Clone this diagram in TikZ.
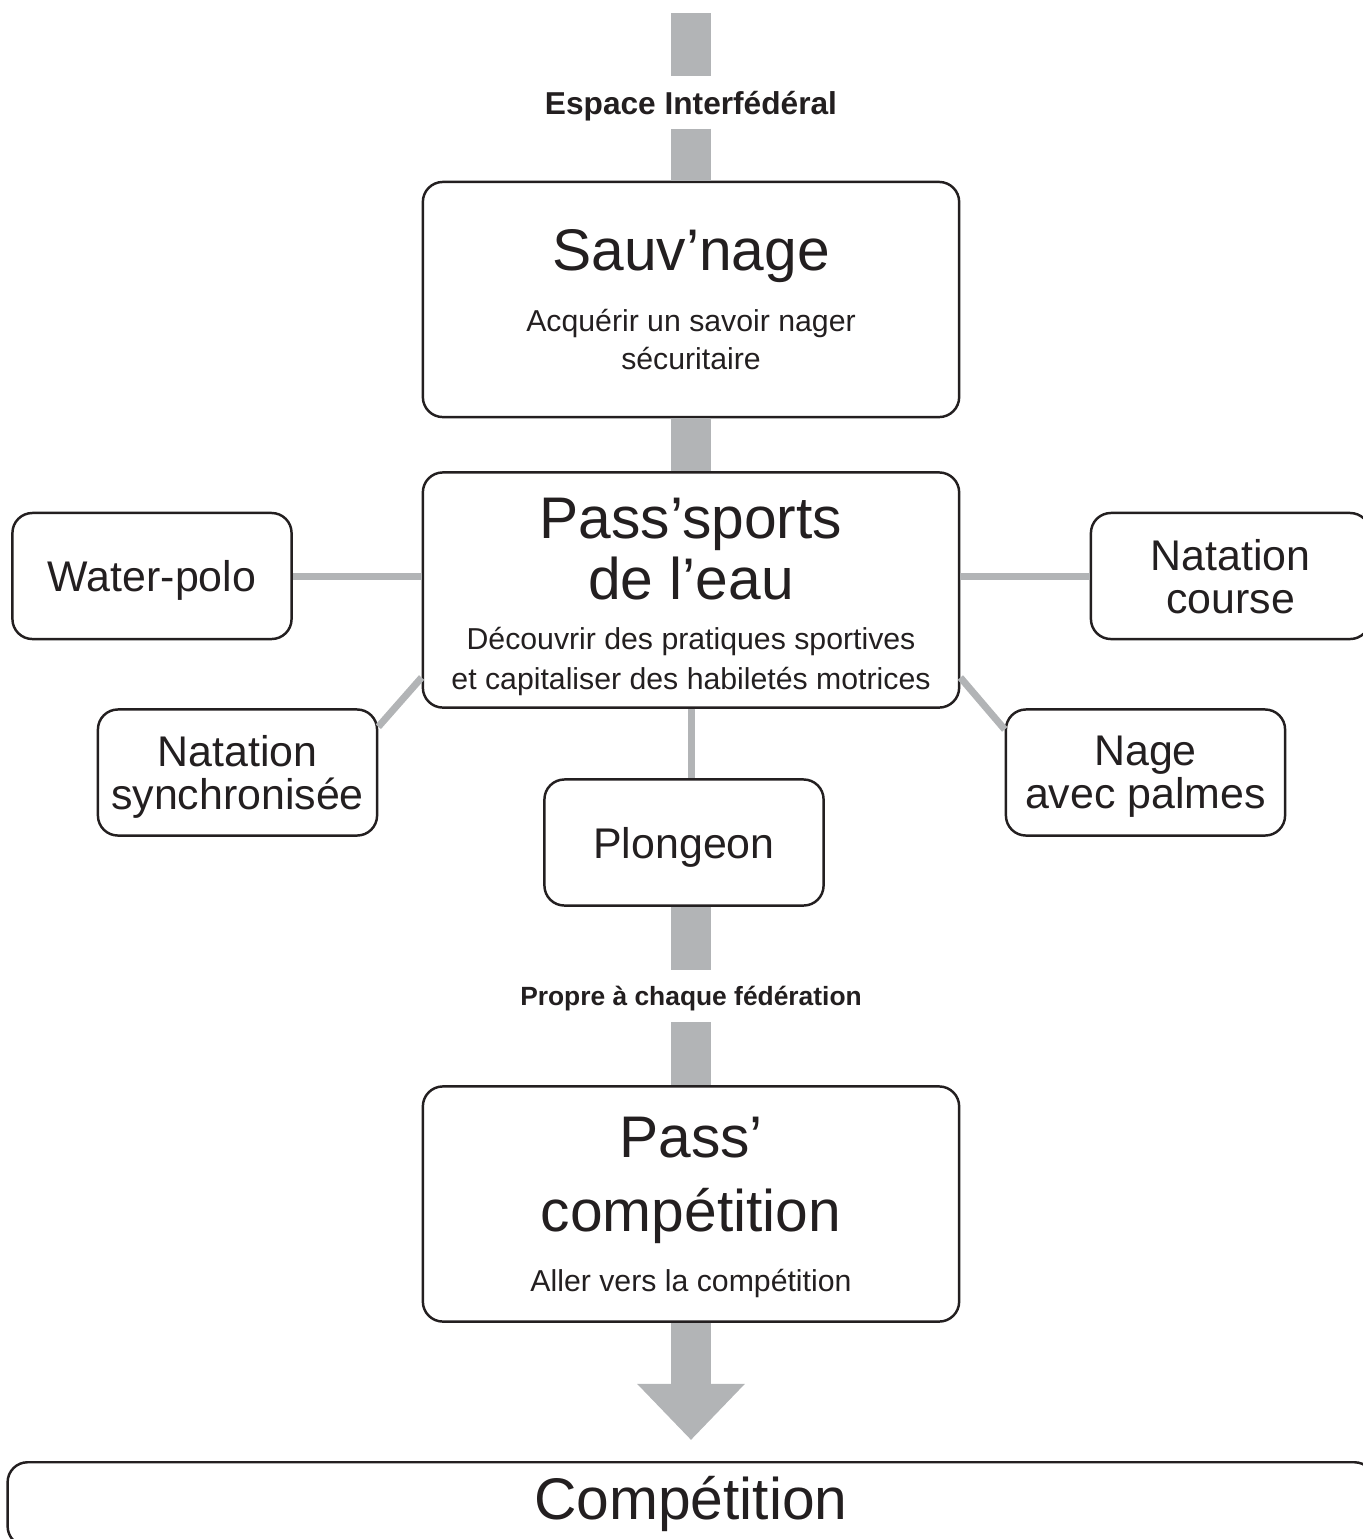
\documentclass[tikz,border=0pt]{standalone}
\usepackage{fontspec}
\setmainfont{Liberation Sans}
\usetikzlibrary{arrows.meta}
\definecolor{bargray}{RGB}{178,180,182}
\definecolor{ink}{RGB}{35,31,32}
\newcommand{\titlesize}{\fontsize{16.7}{17.1}\selectfont}
\newcommand{\subsize}{\fontsize{8.6}{10.5}\selectfont}

\begin{document}
\begin{tikzpicture}[x=0.01cm,y=-0.01cm,
    bigbox/.style={draw=ink, line width=0.7pt, rounded corners=0.2cm, minimum width=5.36cm, minimum height=2.35cm, inner sep=0pt, align=center, text=ink, font=\titlesize},
    sportbox/.style={draw=ink, line width=0.7pt, rounded corners=0.2cm, minimum width=2.79cm, minimum height=1.26cm, inner sep=0pt, text depth=0pt, align=center, text=ink, font=\fontsize{12.2}{12.2}\selectfont},
    stage/.style={inner sep=0pt, outer sep=0pt, minimum height=0.52cm, text depth=0pt, text=ink, font=\bfseries\fontsize{9}{10}\selectfont},
    bar/.style={draw=bargray, line width=0.4cm},
    link/.style={draw=bargray, line width=0.07cm}]
            \useasboundingbox (0,0) rectangle (1362,1539);

            \coordinate (top) at (691,13);
            \node[stage] (espace) at (691,102.5) {Espace Interfédéral};
            \node[bigbox] (sauv) at (691,299.5) {Sauv’nage\\[0.3pt]{\subsize Acquérir un savoir nager}\\[-6.3pt]{\subsize sécuritaire}};
            \node[bigbox] (pass) at (691,590) {\rule{0pt}{15.6pt}Pass’sports\\de l’eau\\[-2.8pt]{\subsize Découvrir des pratiques sportives}\\[-5.6pt]{\subsize et capitaliser des habiletés motrices}};

            \node[sportbox] (wpolo) at (152,576) {Water-polo};
            \node[sportbox] (ncourse) at (1230.5,576) {Natation\\course};
            \node[sportbox] (nsync) at (237.5,772.5) {Natation\\synchronisée};
            \node[sportbox] (npalmes) at (1145.5,772.5) {Nage\\avec palmes};
            \node[sportbox] (plong) at (684,842.5) {Plongeon};

            \node[stage, font=\bfseries\fontsize{7.5}{9}\selectfont] (propre) at (691,996) {Propre à chaque fédération};
            \node[bigbox] (pcomp) at (691,1204) {\rule{0pt}{13.6pt}Pass’\\[4pt]compétition\\{\subsize Aller vers la compétition}};
            \coordinate (tip) at (691,1440);
            \node[bigbox, minimum width=13.66cm, minimum height=0.84cm, anchor=north] (comp) at (691,1461) {Compétition};

            \draw[bar] (top) -- (espace);
            \draw[bar] (espace) -- (sauv);
            \draw[bar] (sauv) -- (pass);

            \draw[link] (wpolo.east) -- (wpolo.east -| pass.west);
            \draw[link] (ncourse.west) -- (ncourse.west -| pass.east);
            \draw[link] (pass.198) -- (nsync.18);
            \draw[link] (pass.-18) -- (npalmes.163);
            \draw[link] (pass.south) -- (pass.south |- plong.north);

            \draw[bar] (plong.south -| propre) -- (propre);
            \draw[bar] (propre) -- (pcomp);
            \draw[bar, -{Triangle[width=1.04cm,length=0.56cm]}] (pcomp) -- (tip);

        \end{tikzpicture}
\end{document}
